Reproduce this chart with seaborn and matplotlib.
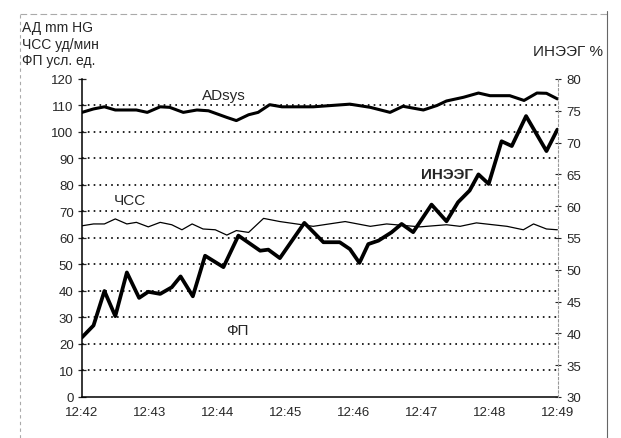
import numpy as np
import pandas as pd
import matplotlib
matplotlib.use("Agg")
import matplotlib.pyplot as plt
from matplotlib.ticker import MultipleLocator
import seaborn as sns

# minutes after 12:42
tick_labels = ["12:42", "12:43", "12:44", "12:45", "12:46", "12:47", "12:48", "12:49"]

ad_t = [0, 0.17, 0.33, 0.49, 0.80, 0.96, 1.15, 1.29, 1.49, 1.69, 1.86, 2.13, 2.27,
        2.45, 2.59, 2.76, 2.94, 3.40, 3.94, 4.24, 4.53, 4.72, 5.02, 5.22, 5.36,
        5.61, 5.83, 6.00, 6.29, 6.50, 6.69, 6.83, 6.99]
ad_sys = [107.4, 108.7, 109.5, 108.3, 108.3, 107.4, 109.5, 109.3, 107.4, 108.3, 108.0,
          105.5, 104.3, 106.5, 107.4, 110.3, 109.5, 109.5, 110.5, 109.3, 107.4, 109.7,
          108.3, 110.0, 111.7, 113.1, 114.7, 113.7, 113.7, 111.9, 114.7, 114.6, 112.5]

hr_t = [0, 0.17, 0.33, 0.49, 0.66, 0.80, 0.975, 1.15, 1.32, 1.47, 1.62, 1.78, 1.96,
        2.13, 2.27, 2.45, 2.67, 2.91, 3.40, 3.87, 4.24, 4.48, 4.97, 5.36, 5.56,
        5.80, 6.25, 6.49, 6.64, 6.83, 6.99]
hr = [64.6, 65.3, 65.3, 67.2, 65.3, 65.9, 64.2, 65.9, 65.0, 63.1, 65.3, 63.4, 63.1,
      61.1, 62.8, 62.1, 67.4, 66.2, 64.4, 66.2, 64.4, 65.3, 64.2, 65.0, 64.4,
      65.7, 64.4, 63.1, 65.3, 63.4, 63.1]

fp_t = [0, 0.17, 0.33, 0.49, 0.66, 0.84, 0.975, 1.15, 1.32, 1.45, 1.63, 1.81, 2.08,
        2.30, 2.62, 2.74, 2.91, 3.27, 3.55, 3.79, 3.94, 4.08, 4.21, 4.36, 4.55, 4.70,
        4.87, 5.14, 5.36, 5.53, 5.70, 5.83, 5.98, 6.17, 6.32, 6.53, 6.83, 6.99]
fp = [22.5, 27.0, 40.0, 30.5, 47.0, 37.4, 39.7, 38.9, 41.4, 45.5, 38.0, 53.3, 49.0,
      60.9, 55.2, 55.6, 52.4, 65.7, 58.4, 58.4, 55.8, 50.6, 57.7, 59.0, 62.1, 65.3,
      62.2, 72.6, 66.3, 73.5, 77.9, 84.0, 80.4, 96.5, 94.7, 106.0, 92.8, 100.9]

sns.set_style("white")
plt.rcParams["font.family"] = ["Liberation Sans", "DejaVu Sans"]

fig = plt.figure(figsize=(6.21, 4.39), dpi=100)
ax = fig.add_axes([0.132, 0.0934, 0.7666, 0.7244])

sns.lineplot(x=ad_t, y=ad_sys, ax=ax, color="black", linewidth=2.2)
sns.lineplot(x=hr_t, y=hr, ax=ax, color="black", linewidth=0.9)
sns.lineplot(x=fp_t, y=fp, ax=ax, color="black", linewidth=2.7)

ax.set_xlim(0, 7)
ax.set_ylim(0, 120)
ax.set_xticks(range(len(tick_labels)))
ax.set_xticklabels(tick_labels, fontsize=9.5)
ax.xaxis.set_minor_locator(MultipleLocator(1 / 12))
ax.set_yticks(range(0, 121, 10))
ax.tick_params(axis="y", labelsize=9.5, direction="inout", length=6, width=0.9, pad=3)
ax.tick_params(axis="x", which="major", direction="inout", length=7, width=0.9, pad=3)
ax.tick_params(axis="x", which="minor", direction="inout", length=4, width=0.8)
for v in range(10, 120, 10):
    ax.axhline(v, color="black", linestyle=(0, (1, 2.5)), linewidth=1.2, zorder=0)

for s in ["top", "right"]:
    ax.spines[s].set_visible(False)
for s in ["left", "bottom"]:
    ax.spines[s].set_color("black")
    ax.spines[s].set_linewidth(1.1)

ax2 = ax.twinx()
ax2.set_ylim(30, 80)
ax2.set_yticks(range(30, 81, 5))
ax2.tick_params(axis="y", labelsize=9.5, direction="inout", length=4, width=0.8, pad=4)
for s in ["top", "left", "bottom"]:
    ax2.spines[s].set_visible(False)
ax2.spines["right"].set_color("#999999")
ax2.spines["right"].set_linestyle((0, (2, 2)))
ax2.spines["right"].set_linewidth(0.8)

ax.text(2.09, 113.8, "ADsys", fontsize=11, ha="center", va="center")
ax.text(0.71, 74.3, "ЧСС", fontsize=11, ha="center", va="center")
ax.text(5.37, 84.0, "ИНЭЭГ", fontsize=11, fontweight="bold", ha="center", va="center")
ax.text(2.29, 25.3, "ФП", fontsize=11, ha="center", va="center")

fig.text(22 / 621, 1 - 28 / 439, "АД mm HG", fontsize=10, va="center")
fig.text(22 / 621, 1 - 45 / 439, "ЧСС уд/мин", fontsize=10, va="center")
fig.text(22 / 621, 1 - 61 / 439, "ФП усл. ед.", fontsize=10, va="center")
fig.text(568 / 621, 1 - 52 / 439, "ИНЭЭГ %", fontsize=11, ha="center", va="center")

# scanned page frame
fig.add_artist(plt.Line2D([20 / 621, 20 / 621], [0, 1 - 15 / 439], transform=fig.transFigure,
                          color="#aaaaaa", linestyle=(0, (3, 3)), linewidth=0.8))
fig.add_artist(plt.Line2D([20 / 621, 607 / 621], [1 - 15 / 439, 1 - 15 / 439], transform=fig.transFigure,
                          color="#aaaaaa", linestyle=(0, (6, 3)), linewidth=0.8))
fig.add_artist(plt.Line2D([607 / 621, 607 / 621], [0, 1 - 12 / 439], transform=fig.transFigure,
                          color="#666666", linewidth=0.8))

fig.savefig("out.png", dpi=100)
